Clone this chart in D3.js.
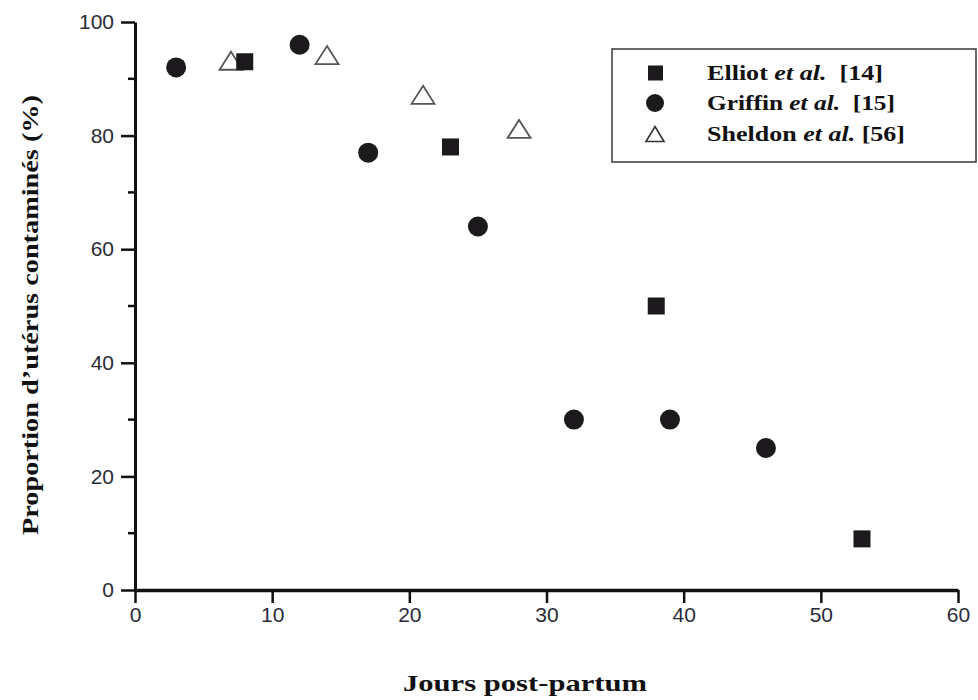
<!DOCTYPE html>
<html><head><meta charset="utf-8">
<script src="https://cdn.jsdelivr.net/npm/d3@7"></script>
<style>body{margin:0;background:#fff}svg{display:block}</style>
</head><body>
<script>
// Data
const elliotDays = [8, 23, 38, 53];
const elliotPct  = [93, 78, 50, 9];
const griffinDays = [3, 12, 17, 25, 32, 39, 46];
const griffinPct  = [92, 96, 77, 64, 30, 30, 25];
const sheldonDays = [7, 14, 21, 28];
const sheldonPct  = [93, 94, 87, 81];
const xTicks = [0, 10, 20, 30, 40, 50, 60];
const yTicks = [0, 20, 40, 60, 80, 100];
const yMinorTicks = [10, 30, 50, 70, 90];
const legendLabels = [
  {name: "Elliot", ref: "[14]", gap: "\u00a0\u00a0"},
  {name: "Griffin", ref: "[15]", gap: "\u00a0\u00a0"},
  {name: "Sheldon", ref: "[56]", gap: "\u00a0"}
];
const legendWidths = [176, 188, 198];
const xTitle = "Jours post-partum";
const yTitle = "Proportion d\u2019utérus contaminés (%)";

const W = 978, H = 700;
const svg = d3.select("body").append("svg").attr("width", W).attr("height", H);

const x = d3.scaleLinear().domain([0, 60]).range([135, 958]);
const y = d3.scaleLinear().domain([0, 100]).range([590, 22]);

const tickColor = "#2b2b38";
// X axis
const gx = svg.append("g").attr("transform", `translate(0,${y(0)})`)
  .call(d3.axisBottom(x).tickValues(xTicks).tickSize(13).tickPadding(6).tickSizeOuter(0));
gx.select(".domain").attr("stroke", "#111").attr("stroke-width", 3.5);
gx.selectAll(".tick line").attr("stroke", "#111").attr("stroke-width", 2.5);
gx.selectAll(".tick text").attr("font-family", "Liberation Sans, Arial, sans-serif")
  .attr("font-size", 21).attr("fill", tickColor).attr("dy", "0.6em");

// Y axis
const gy = svg.append("g").attr("transform", `translate(${x(0)},0)`)
  .call(d3.axisLeft(y).tickValues(yTicks).tickSize(14).tickPadding(7).tickSizeOuter(0));
gy.select(".domain").attr("stroke", "#111").attr("stroke-width", 3);
gy.selectAll(".tick line").attr("stroke", "#111").attr("stroke-width", 2.5);
gy.selectAll(".tick text").attr("font-family", "Liberation Sans, Arial, sans-serif")
  .attr("font-size", 21).attr("fill", tickColor);
svg.append("g").selectAll("line").data(yMinorTicks).join("line")
  .attr("x1", x(0) - 7).attr("x2", x(0)).attr("y1", d => y(d)).attr("y2", d => y(d))
  .attr("stroke", "#111").attr("stroke-width", 2.5);

// Titles
svg.append("text").attr("x", 525).attr("y", 691).attr("text-anchor", "middle")
  .attr("font-family", "Liberation Serif, DejaVu Serif, serif").attr("font-weight", "bold")
  .attr("font-size", 23).attr("fill", "#111")
  .attr("textLength", 244).attr("lengthAdjust", "spacingAndGlyphs").text(xTitle);
svg.append("text").attr("transform", "translate(38,315) rotate(-90)").attr("text-anchor", "middle")
  .attr("font-family", "Liberation Serif, DejaVu Serif, serif").attr("font-weight", "bold")
  .attr("font-size", 23).attr("fill", "#111")
  .attr("textLength", 440).attr("lengthAdjust", "spacingAndGlyphs").text(yTitle);

// Marks
const fillC = "#1c1a1c";
const triPath = (cx, cy, w, h) => `M${cx},${cy - h/2}L${cx + w/2},${cy + h/2}L${cx - w/2},${cy + h/2}Z`;

svg.append("g").selectAll("path").data(sheldonDays.map((d, i) => [d, sheldonPct[i]])).join("path")
  .attr("d", d => triPath(x(d[0]), y(d[1]) - 1, 23, 18))
  .attr("fill", "#fff").attr("stroke", "#555").attr("stroke-width", 1.8);

svg.append("g").selectAll("rect").data(elliotDays.map((d, i) => [d, elliotPct[i]])).join("rect")
  .attr("x", d => x(d[0]) - 8.5).attr("y", d => y(d[1]) - 8.5)
  .attr("width", 17).attr("height", 17).attr("fill", fillC);

svg.append("g").selectAll("circle").data(griffinDays.map((d, i) => [d, griffinPct[i]])).join("circle")
  .attr("cx", d => x(d[0])).attr("cy", d => y(d[1])).attr("r", 10).attr("fill", fillC);

// Legend
const lg = svg.append("g");
lg.append("rect").attr("x", 612).attr("y", 49).attr("width", 364).attr("height", 113)
  .attr("fill", "#fff").attr("stroke", "#444").attr("stroke-width", 1.6);
const rowsY = [73, 103, 134];
lg.append("rect").attr("x", 648).attr("y", rowsY[0] - 7.5).attr("width", 15).attr("height", 15).attr("fill", fillC);
lg.append("circle").attr("cx", 655).attr("cy", rowsY[1]).attr("r", 9).attr("fill", fillC);
lg.append("path").attr("d", triPath(655, rowsY[2], 18, 15)).attr("fill", "#fff").attr("stroke", "#333").attr("stroke-width", 1.6);
legendLabels.forEach((l, i) => {
  const t = lg.append("text").attr("x", 707).attr("y", rowsY[i] + 7)
    .attr("font-family", "Liberation Serif, DejaVu Serif, serif").attr("font-weight", "bold")
    .attr("font-size", 22).attr("fill", "#111")
    .attr("textLength", legendWidths[i]).attr("lengthAdjust", "spacingAndGlyphs");
  t.append("tspan").text(l.name + " ");
  t.append("tspan").attr("font-style", "italic").text("et al.");
  t.append("tspan").text(l.gap + l.ref);
});
</script>
</body></html>
